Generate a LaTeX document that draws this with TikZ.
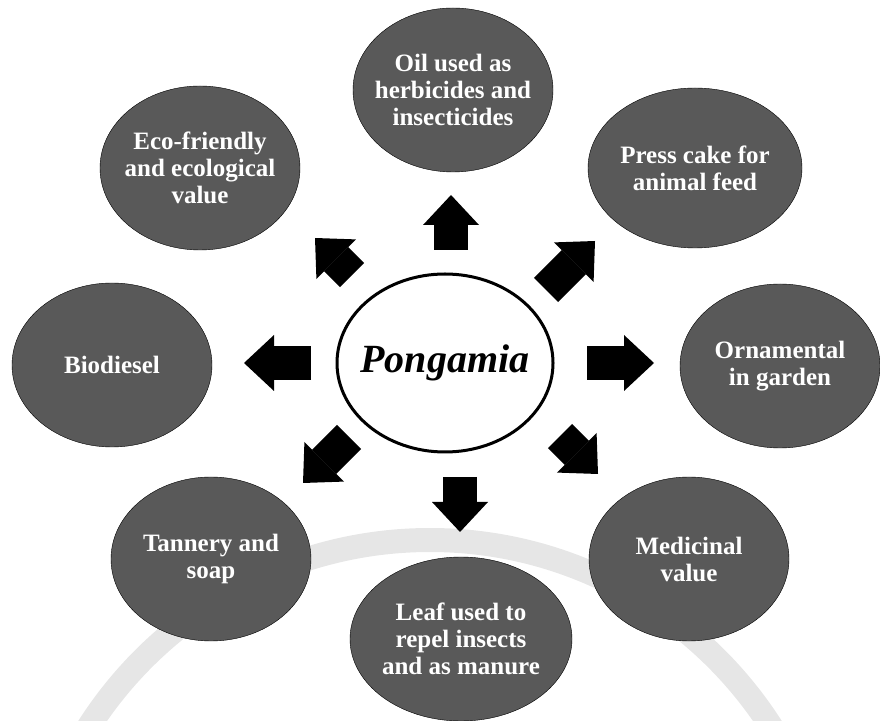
\documentclass[tikz,border=0pt]{standalone}
\usepackage{fontspec}
\setmainfont{Liberation Serif}
\usetikzlibrary{shapes.geometric,arrows.meta}
\definecolor{blobgray}{RGB}{89,89,89}
\definecolor{wmgray}{RGB}{230,230,230}
\tikzset{
  blob/.style={ellipse,draw=black,thin,fill=blobgray,minimum width=200pt,minimum height=164pt,inner sep=0pt},
  btxt/.style={text=white,align=center,font=\bfseries\fontsize{25}{27}\selectfont},
  hub/.style={ellipse,draw=black,line width=3pt,fill=white,minimum width=216pt,minimum height=178pt,inner sep=0pt},
  hubtxt/.style={font=\bfseries\itshape\fontsize{40}{44}\selectfont},
  blockarr/.style={line width=34pt,-{Triangle[length=30pt,width=56pt,line width=0pt]}}
}
\begin{document}
\begin{tikzpicture}[x=1pt,y=1pt]
\useasboundingbox (0,0) rectangle (880,720);
\draw[wmgray,line width=24pt] (430,-225) circle (405pt);
\node[hub,label={[hubtxt]center:Pongamia}] (pong) at (445,357) {};
\node[blob,label={[btxt]center:{Oil used as\\herbicides and\\insecticides}}] (oil) at (453,630) {};
\node[blob,label={[btxt]center:{Eco-friendly\\and ecological\\value}}] (eco) at (200,552) {};
\node[blob,minimum width=214pt,minimum height=160pt,label={[btxt]center:{Press cake for\\animal feed}}] (cake) at (695,552) {};
\node[blob,label={[btxt]center:Biodiesel}] (bio) at (112,355) {};
\node[blob,label={[btxt]center:{Ornamental\\in garden}}] (orn) at (780,354) {};
\node[blob,label={[btxt]center:{Tannery and\\soap}}] (tan) at (211,161) {};
\node[blob,label={[btxt]center:{Medicinal\\value}}] (med) at (689,161) {};
\node[blob,minimum width=222pt,label={[btxt]center:{Leaf used to\\repel insects\\and as manure}}] (leaf) at (461,81) {};
\coordinate (n-s) at (451,470); \coordinate (n-e) at (451,525);
\coordinate (s-s) at (460,243); \coordinate (s-e) at (460,188);
\coordinate (w-s) at (311,357); \coordinate (w-e) at (244,357);
\coordinate (e-s) at (587,357); \coordinate (e-e) at (654,357);
\coordinate (nw-s) at (352,445); \coordinate (nw-e) at (315,482);
\coordinate (ne-s) at (546,430); \coordinate (ne-e) at (595,479);
\coordinate (se-s) at (560,284); \coordinate (se-e) at (598,246);
\coordinate (sw-s) at (349,283); \coordinate (sw-e) at (303,237);
\foreach \d in {n,s,w,e,nw,ne,se,sw}
  \draw[blockarr] (\d-s) -- (\d-e);
\end{tikzpicture}
\end{document}
